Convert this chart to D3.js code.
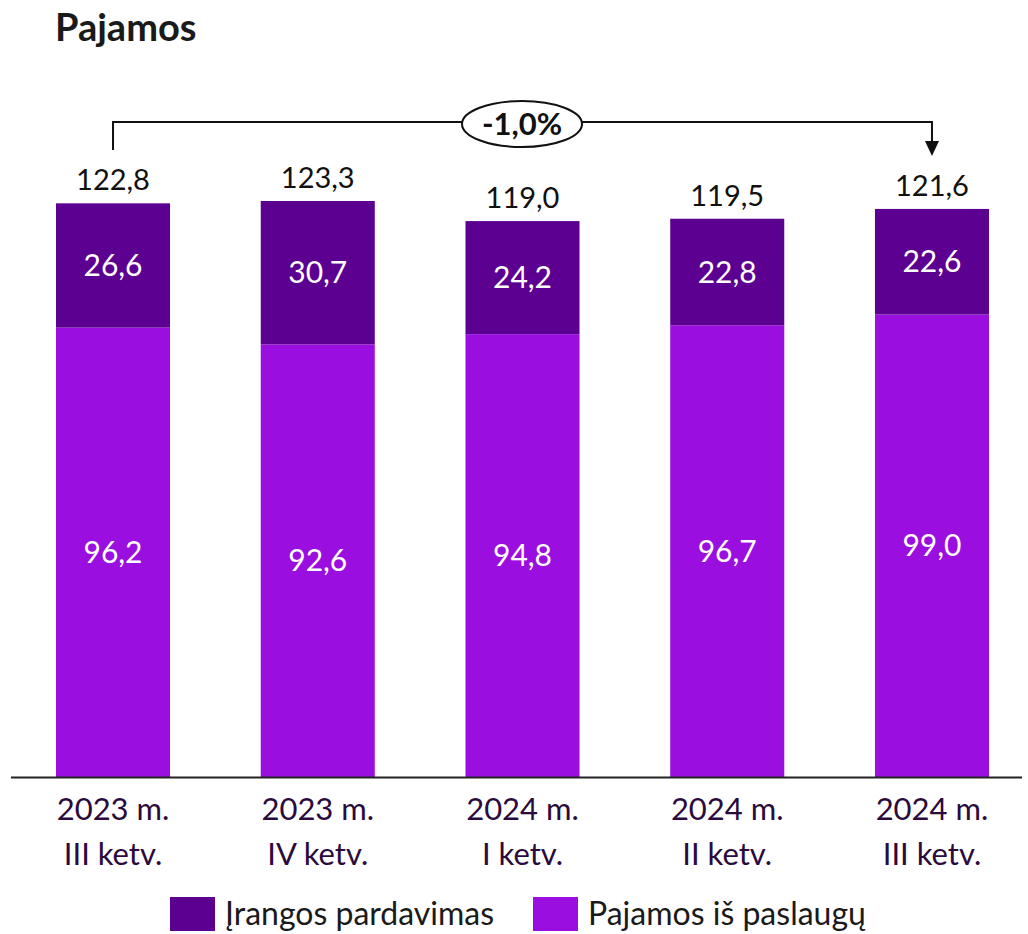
<!DOCTYPE html>
<html><head><meta charset="utf-8">
<script src="https://cdn.jsdelivr.net/npm/d3@7"></script>
<style>body{margin:0;background:#fff}svg{display:block}</style>
</head><body>
<svg id="c" width="1028" height="934"></svg>
<script>
const categories = [["2023 m.","III ketv."],["2023 m.","IV ketv."],["2024 m.","I ketv."],["2024 m.","II ketv."],["2024 m.","III ketv."]];
const services = [96.2, 92.6, 94.8, 96.7, 99.0];
const equipment = [26.6, 30.7, 24.2, 22.8, 22.6];
const totals = ["122,8","123,3","119,0","119,5","121,6"];
const seriesNames = ["Įrangos pardavimas","Pajamos iš paslaugų"];
const changeLabel = "-1,0%";
const colors = {equip:"#5c0092", serv:"#9a0fe0"};
const font = "Lato, 'Open Sans', sans-serif";

const svg = d3.select("#c");
const x = d3.scaleBand().domain(d3.range(categories.length)).range([56, 989]).paddingInner(0.443).paddingOuter(0);
const y = d3.scaleLinear().domain([0, 123.3]).range([777, 201]);
const fmt = v => v.toFixed(1).replace(".", ",");

svg.append("text").attr("x",55).attr("y",41).text("Pajamos")
  .attr("font-family",font).attr("font-weight",700).attr("font-size",38).attr("fill","#1a1a1a");

const g = svg.append("g");
categories.forEach((c,i)=>{
  const x0 = x(i), w = x.bandwidth();
  const s = services[i], e = equipment[i];
  g.append("rect").attr("x",x0).attr("width",w).attr("y",y(s)).attr("height",y(0)-y(s)).attr("fill",colors.serv);
  g.append("rect").attr("x",x0).attr("width",w).attr("y",y(s+e)).attr("height",y(s)-y(s+e)).attr("fill",colors.equip);
  g.append("text").attr("x",x0+w/2).attr("y",(y(0)+y(s))/2).attr("dy","0.35em").attr("text-anchor","middle")
    .attr("font-family",font).attr("font-size",30).attr("fill","#fff").text(fmt(s));
  g.append("text").attr("x",x0+w/2).attr("y",(y(s)+y(s+e))/2).attr("dy","0.35em").attr("text-anchor","middle")
    .attr("font-family",font).attr("font-size",30).attr("fill","#fff").text(fmt(e));
  g.append("text").attr("x",x0+w/2).attr("y",y(s+e)-13).attr("text-anchor","middle")
    .attr("font-family",font).attr("font-size",29).attr("fill","#111").text(totals[i]);
  categories[i].forEach((t,k)=>{
    g.append("text").attr("x",x0+w/2).attr("y",820+k*45).attr("text-anchor","middle")
      .attr("font-family",font).attr("font-size",31).attr("fill","#2b0a3d").text(t);
  });
});

// baseline
svg.append("line").attr("x1",11).attr("x2",1022).attr("y1",y(0)+0.5).attr("y2",y(0)+0.5).attr("stroke","#222").attr("stroke-width",2);

// bracket
const xl = x(0)+x.bandwidth()/2, xr = x(4)+x.bandwidth()/2, yb = 122;
svg.append("path").attr("d",`M${xl},150 V${yb} H${xr} V146`).attr("fill","none").attr("stroke","#111").attr("stroke-width",2);
svg.append("path").attr("d",`M${xr-7},141 L${xr+7},141 L${xr},156 Z`).attr("fill","#111");
svg.append("ellipse").attr("cx",522).attr("cy",124).attr("rx",60).attr("ry",23).attr("fill","#fff").attr("stroke","#111").attr("stroke-width",2);
svg.append("text").attr("x",522).attr("y",124).attr("dy","0.35em").attr("text-anchor","middle")
  .attr("font-family",font).attr("font-weight",700).attr("font-size",31).attr("fill","#111").text(changeLabel);

// legend
const lg = svg.append("g");
[[170,colors.equip,seriesNames[0]],[533,colors.serv,seriesNames[1]]].forEach(([lx,col,t])=>{
  lg.append("rect").attr("x",lx).attr("y",897).attr("width",45).attr("height",34).attr("fill",col);
  lg.append("text").attr("x",lx+55).attr("y",914).attr("dy","0.35em").attr("font-family",font).attr("font-size",32).attr("fill","#1a1a1a").text(t);
});
</script>
</body></html>
